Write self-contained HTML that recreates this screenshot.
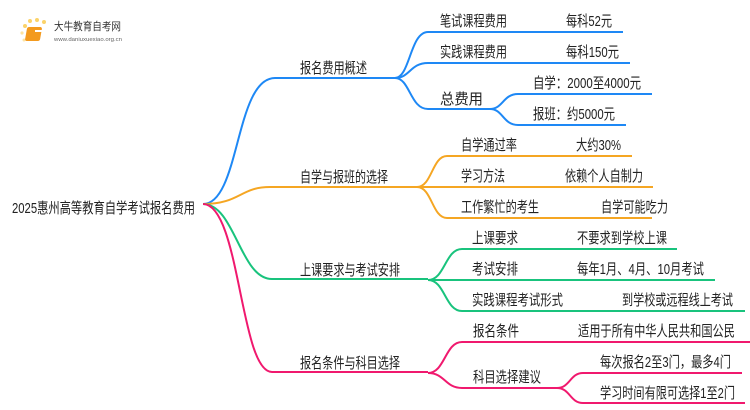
<!DOCTYPE html>
<html><head><meta charset="utf-8"><style>
html,body{margin:0;padding:0;background:#fff;width:750px;height:410px;overflow:hidden}
svg text{font-family:"Liberation Sans","Noto Sans CJK SC",sans-serif;font-size:15px;fill:#222}
</style></head><body>
<svg width="750" height="410" viewBox="0 0 750 410" xmlns="http://www.w3.org/2000/svg">
<g fill="none" stroke-width="2">
<g stroke="#1e88f5">
<path d="M203,204 C240,204 235,78 275,78 L395,78"/>
<path d="M395,78 C410,78 410,32 428,32 L623,32"/>
<path d="M395,78 C410,78 410,63 428,63 L630,63"/>
<path d="M395,78 C410,78 410,109 428,109 L490,109"/>
<path d="M490,109 C503,109 503,94 518,94 L652,94"/>
<path d="M490,109 C503,109 503,125 518,125 L626,125"/>
</g>
<g stroke="#f5a623">
<path d="M203,204 C240,204 240,187 270,187 L417,187"/>
<path d="M417,187 C432,187 432,156 447,156 L632,156"/>
<path d="M417,187 L653,187"/>
<path d="M417,187 C432,187 432,218 447,218 L652,218"/>
</g>
<g stroke="#19c37d">
<path d="M203,204 C235,204 240,279 272,279 L428,279"/>
<path d="M428,280 C445,280 445,249 462,249 L677,249"/>
<path d="M428,280 L715,280"/>
<path d="M428,280 C445,280 445,311 462,311 L745,311"/>
</g>
<g stroke="#f0196e">
<path d="M203,204 C240,204 240,372 272,372 L428,372"/>
<path d="M428,373 C445,373 445,342 462,342 L750,342"/>
<path d="M428,373 C445,373 445,388 462,388 L557,388"/>
<path d="M557,388 C570,388 570,373 583,373 L742,373"/>
<path d="M557,388 C570,388 570,403 583,403 L745,403"/>
</g>
</g>
<g>
<circle cx="25" cy="26" r="2" fill="#fbd36a"/><circle cx="30" cy="21" r="2" fill="#fbd36a"/><circle cx="37" cy="20" r="2" fill="#fbd36a"/><circle cx="44" cy="22" r="2" fill="#fbd36a"/><circle cx="22" cy="33" r="1.6" fill="#fde3a0"/><circle cx="24" cy="40" r="1.5" fill="#fde3a0"/>
<rect x="32" y="27" width="15" height="14" rx="2" fill="#f39a1e" transform="skewX(-10)"/>
<rect x="35" y="30" width="8" height="2" fill="#fff"/>
<text x="54" y="30" style="font-size:11px;fill:#333" textLength="67" lengthAdjust="spacingAndGlyphs">大牛教育自考网</text>
<text x="54" y="41" style="font-size:5px;fill:#666" textLength="68" lengthAdjust="spacingAndGlyphs">www.daniuxuexiao.org.cn</text>
</g>
<g>
<text x="12" y="213" textLength="183" lengthAdjust="spacingAndGlyphs">2025惠州高等教育自学考试报名费用</text>
<text x="300" y="73" textLength="67" lengthAdjust="spacingAndGlyphs">报名费用概述</text>
<text x="440" y="26" textLength="67" lengthAdjust="spacingAndGlyphs">笔试课程费用</text><text x="566" y="26" textLength="46" lengthAdjust="spacingAndGlyphs">每科52元</text>
<text x="440" y="57" textLength="67" lengthAdjust="spacingAndGlyphs">实践课程费用</text><text x="566" y="57" textLength="53" lengthAdjust="spacingAndGlyphs">每科150元</text>
<text x="440" y="104" textLength="43" lengthAdjust="spacingAndGlyphs">总费用</text>
<text x="533" y="88" textLength="108" lengthAdjust="spacingAndGlyphs">自学：2000至4000元</text>
<text x="533" y="119" textLength="82" lengthAdjust="spacingAndGlyphs">报班：约5000元</text>
<text x="300" y="182" textLength="88" lengthAdjust="spacingAndGlyphs">自学与报班的选择</text>
<text x="461" y="150" textLength="56" lengthAdjust="spacingAndGlyphs">自学通过率</text><text x="576" y="150" textLength="45" lengthAdjust="spacingAndGlyphs">大约30%</text>
<text x="461" y="181" textLength="44" lengthAdjust="spacingAndGlyphs">学习方法</text><text x="565" y="181" textLength="78" lengthAdjust="spacingAndGlyphs">依赖个人自制力</text>
<text x="461" y="212" textLength="78" lengthAdjust="spacingAndGlyphs">工作繁忙的考生</text><text x="601" y="212" textLength="67" lengthAdjust="spacingAndGlyphs">自学可能吃力</text>
<text x="300" y="275" textLength="100" lengthAdjust="spacingAndGlyphs">上课要求与考试安排</text>
<text x="472" y="243" textLength="46" lengthAdjust="spacingAndGlyphs">上课要求</text><text x="577" y="243" textLength="90" lengthAdjust="spacingAndGlyphs">不要求到学校上课</text>
<text x="472" y="274" textLength="46" lengthAdjust="spacingAndGlyphs">考试安排</text><text x="577" y="274" textLength="127" lengthAdjust="spacingAndGlyphs">每年1月、4月、10月考试</text>
<text x="472" y="305" textLength="91" lengthAdjust="spacingAndGlyphs">实践课程考试形式</text><text x="622" y="305" textLength="111" lengthAdjust="spacingAndGlyphs">到学校或远程线上考试</text>
<text x="300" y="368" textLength="100" lengthAdjust="spacingAndGlyphs">报名条件与科目选择</text>
<text x="473" y="336" textLength="46" lengthAdjust="spacingAndGlyphs">报名条件</text><text x="578" y="336" textLength="157" lengthAdjust="spacingAndGlyphs">适用于所有中华人民共和国公民</text>
<text x="473" y="382" textLength="68" lengthAdjust="spacingAndGlyphs">科目选择建议</text>
<text x="600" y="367" textLength="131" lengthAdjust="spacingAndGlyphs">每次报名2至3门，最多4门</text>
<text x="600" y="398" textLength="135" lengthAdjust="spacingAndGlyphs">学习时间有限可选择1至2门</text>
</g>
</svg>
</body></html>
